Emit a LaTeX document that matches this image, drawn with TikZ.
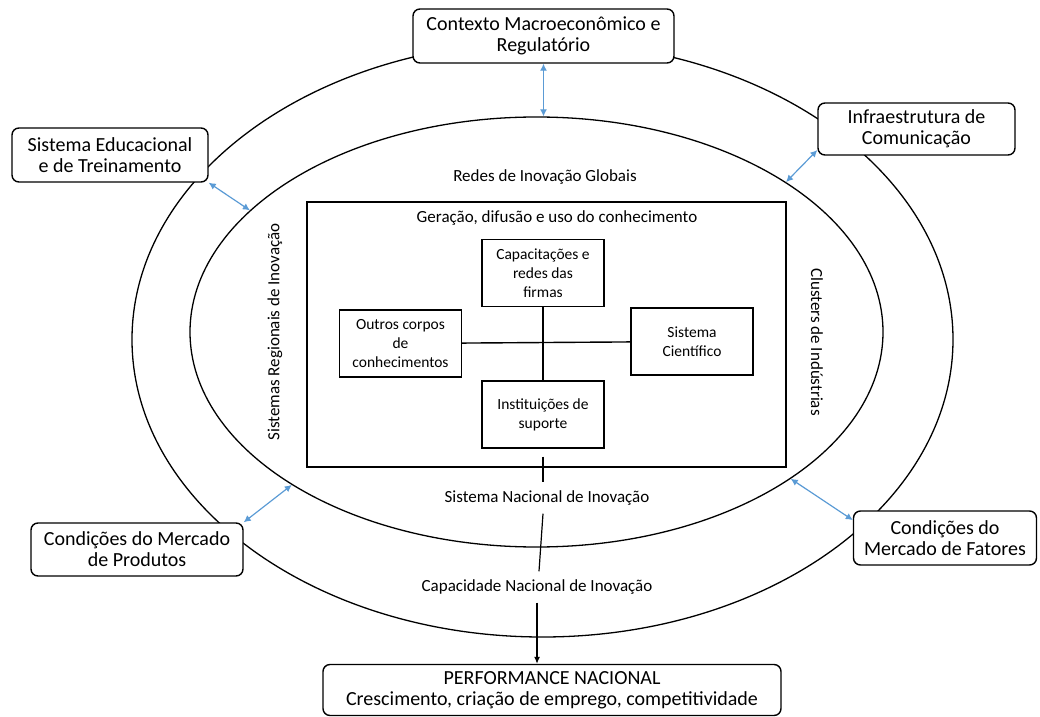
\documentclass[tikz,border=0pt]{standalone}
\usepackage{fontspec}
\setmainfont{Carlito}
\usepackage{xcolor}
\usepackage{tikz}
\usetikzlibrary{shapes, positioning, calc, arrows.meta}
\definecolor{linkblue}{RGB}{91,155,213}

\begin{document}
\begin{tikzpicture}[
    x = 0.5pt, y = -0.5pt, align = center,
    ring/.style = {ellipse, draw, line width = 0.65pt, inner sep = 0pt},
    context/.style = {rectangle, draw, fill = white, rounded corners = 3.5pt, line width = 0.7pt, inner sep = 0pt, font = \fontsize{10}{10.5}\selectfont},
    frame/.style = {rectangle, draw, line width = 0.7pt, inner sep = 0pt, minimum width = 239.5pt, minimum height = 132.5pt},
    element/.style = {rectangle, draw, line width = 0.7pt, inner sep = 0pt, minimum width = 61pt, minimum height = 33.5pt, font = \fontsize{7.75}{9.5}\selectfont},
    ringtext/.style = {inner sep = 4pt, font = \fontsize{8.5}{10}\selectfont},
    link/.style = {<->, draw = linkblue, line width = 0.6pt, > = {Latex[length = 3.5pt, width = 3.5pt]}},
    flow/.style = {->, line width = 0.6pt, > = {Latex[length = 3.5pt, width = 3pt]}},
    ]
    \useasboundingbox (0,0) rectangle (1040,717);

    % draw the two rings
    \node [ring, minimum width = 410.5pt, minimum height = 297.5pt] (outer) at (542.5,339.5) {};
    \node [ring, minimum width = 346.5pt, minimum height = 215pt]   (inner) at (536.5,332) {};

    % draw knowledge frame and its elements
    \node [frame] (know) at (546.5,334.5) {};
    \node [ringtext] (gtit) at (557,218) {Geração, difusão e uso do conhecimento};
    \node [element] (cap)    at (543,273)   {Capacitações e\\redes das\\firmas};
    \node [element] (inst)   [below = 36.5pt of cap] {Instituições de\\suporte};
    \node [element] (outros) at (400.5,343.5) {Outros corpos\\de\\conhecimentos};
    \node [element] (sci)    at (692,341.5) {Sistema\\Científico};

    % draw ring texts
    \node [ringtext] (redes) at (545,177) {Redes de Inovação Globais};
    \node [ringtext, rotate = 90]  (sreg) at (275,332) {Sistemas Regionais de Inovação};
    \node [ringtext, rotate = -90] (clus) at (817,342) {Clusters de Indústrias};
    \node [ringtext] (snac) at (547,498) {Sistema Nacional de Inovação};
    \node [ringtext] (cnac) at (537,587) {Capacidade Nacional de Inovação};

    % draw context boxes
    \node [context, minimum width = 130.5pt, minimum height = 27pt]   (ctx)   at (543.5,36)  {Contexto Macroeconômico e\\Regulatório};
    \node [context, minimum width = 98pt, minimum height = 27pt]      (edu)   at (110,155)   {Sistema Educacional\\e de Treinamento};
    \node [context, minimum width = 98.5pt, minimum height = 26pt]    (infra) at (916.5,129) {Infraestrutura de\\Comunicação};
    \node [context, minimum width = 106pt, minimum height = 26.5pt]   (prod)  at (137,549.5) {Condições do Mercado\\de Produtos};
    \node [context, minimum width = 91.5pt, minimum height = 27pt]    (fat)   at (945,538)   {Condições do\\Mercado de Fatores};
    \node [context, minimum width = 229pt, minimum height = 25.5pt]   (perf)  at (552,690)   {PERFORMANCE NACIONAL\\Crescimento, criação de emprego, competitividade};

    % draw paths
    \draw [line width = 0.7pt] (cap) -- (inst);
    \draw [line width = 0.7pt] (outros) -- (sci);
    \draw [line width = 0.6pt] ([yshift = -4pt]inst.south) -- (inst.south |- snac.north);
    \draw [line width = 0.6pt] (inst.south |- snac.south) -- ([xshift = 1pt]cnac.north);
    \draw [flow] (cnac.south) -- (cnac.south |- perf.north);

    % draw links to the context
    \draw [link] (ctx.south) -- (ctx.south |- inner.north);
    \draw [link] (edu.south east) -- (inner.157.4);
    \draw [link] (infra.192) -- (inner.31.8);
    \draw [link] (prod.north east) -- (inner.212.5);
    \draw [link] (fat.169) -- (inner.330);
\end{tikzpicture}
\end{document}
